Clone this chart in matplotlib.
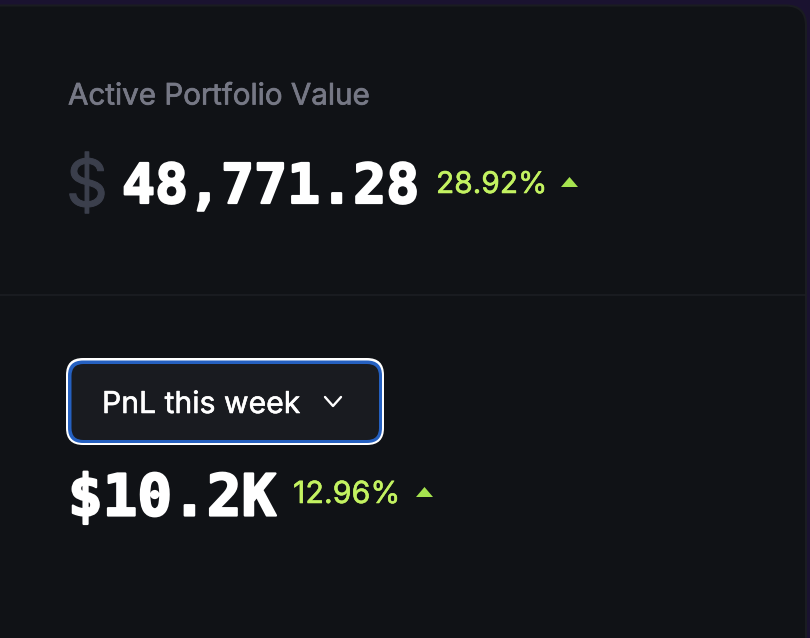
import matplotlib
matplotlib.use('Agg')
import matplotlib.pyplot as plt
import matplotlib.patheffects as pe
from matplotlib.patches import FancyBboxPatch, Polygon

# ---- values shown on the card
portfolio_label = 'Active Portfolio Value'
currency_sign = '$'
portfolio_value = '48,771.28'
portfolio_change = '28.92%'
dropdown_label = 'PnL this week'
pnl_value = '$10.2K'
pnl_change = '12.96%'

# ---- colours
page_bg = '#1a1230'
card_bg = '#101216'
card_edge = '#1a1c21'
grey_label = '#767885'
grey_sign = '#3b3f4c'
green = '#c3f261'
green_arrow = '#a6e34f'
white = '#ffffff'
button_bg = '#191b20'
button_blue = '#2560c0'

fig = plt.figure(figsize=(8.1, 6.38), dpi=100, facecolor=page_bg)
ax = fig.add_axes([0, 0, 1, 1])
ax.set_xlim(0, 810)
ax.set_ylim(638, 0)
ax.axis('off')


# thin outline to fatten a text that renders too light
def fatten(color, width):
    return [pe.withStroke(linewidth=width, foreground=color)]


# card background
ax.add_patch(FancyBboxPatch((-40, 5.5), 846, 700, boxstyle='round,pad=0,rounding_size=20',
                            fc=card_bg, ec=card_edge, lw=1.5))
ax.plot([0, 805], [295, 295], color='#1c1e23', lw=1.2)

# top block
ax.text(68, 94, portfolio_label, color=grey_label, fontsize=21.3, family='Inter',
        va='center_baseline', ha='left', path_effects=fatten(grey_label, 0.5))
ax.text(66, 182, currency_sign, color=grey_sign, fontsize=47, family='Inter',
        va='center_baseline', ha='left', path_effects=fatten(grey_sign, 0.7))
ax.text(122, 182, portfolio_value, color=white, fontsize=39.5, family='DejaVu Sans Mono',
        weight='bold', va='center_baseline', ha='left', path_effects=fatten(white, 1.6))
ax.text(436, 182, portfolio_change, color=green, fontsize=21.5, family='Inter',
        va='center_baseline', ha='left', path_effects=fatten(green, 0.4))
ax.add_patch(Polygon([(561, 187), (578, 187), (569.5, 177)], closed=True, fc=green_arrow, ec='none'))

# dropdown button
ax.add_patch(FancyBboxPatch((66, 358), 318, 87, boxstyle='round,pad=0,rounding_size=17',
                            fc=white, ec='none'))
ax.add_patch(FancyBboxPatch((68, 360.5), 314, 82.5, boxstyle='round,pad=0,rounding_size=15',
                            fc=button_blue, ec='none'))
ax.add_patch(FancyBboxPatch((71.5, 364), 307.5, 76, boxstyle='round,pad=0,rounding_size=12',
                            fc=button_bg, ec='none'))
ax.text(102, 402, dropdown_label, color=white, fontsize=21.7, family='Inter',
        va='center_baseline', ha='left', path_effects=fatten(white, 0.4))
ax.plot([325, 333, 341], [397, 406, 397], color=white, lw=1.7, solid_capstyle='round',
        solid_joinstyle='round')

# bottom block
ax.text(68, 493, pnl_value, color=white, fontsize=41.5, family='DejaVu Sans Mono',
        weight='bold', va='center_baseline', ha='left', path_effects=fatten(white, 1.6))
ax.text(293, 492, pnl_change, color=green, fontsize=21.9, family='Inter',
        va='center_baseline', ha='left', path_effects=fatten(green, 0.4))
ax.add_patch(Polygon([(416, 497), (433, 497), (424.5, 487)], closed=True, fc=green_arrow, ec='none'))

fig.savefig('out.png', dpi=100, facecolor=page_bg)
